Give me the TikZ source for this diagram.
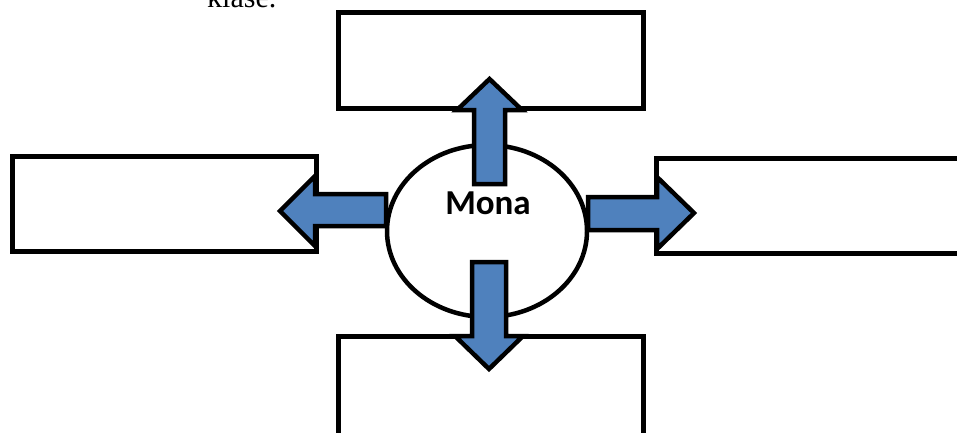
\documentclass[tikz,border=0pt]{standalone}
\usepackage{fontspec}
\usetikzlibrary{shapes.geometric}
\setmainfont{Liberation Serif}
\newfontfamily\monafont{Carlito}
\definecolor{arrowblue}{HTML}{4F81BD}
\begin{document}
\begin{tikzpicture}[x=1pt,y=-1pt,
  box/.style={draw, line width=5pt, fill=white, inner sep=0pt, outer sep=0pt, anchor=north west},
  blk/.style={fill=arrowblue, draw=black, line width=4.5pt, line join=miter},
  oval/.style={ellipse, draw, line width=4.5pt, fill=white, inner sep=0pt, outer sep=0pt, minimum width=200pt, minimum height=172pt}]
\useasboundingbox (0,0) rectangle (957,432);
\clip (0,0) rectangle (957,432);
\node[anchor=base west, font=\fontsize{30}{32}\selectfont, inner sep=0pt] (klase) at (207,7) {klase.};
\node[box, minimum width=305pt, minimum height=96pt] (topbox) at (338,12) {};
\node[box, minimum width=304pt, minimum height=95pt] (leftbox) at (12,156) {};
\node[box, minimum width=330pt, minimum height=95pt] (rightbox) at (656,158) {};
\node[box, minimum width=305pt, minimum height=110pt] (bottombox) at (338,336) {};
\node[oval] (mona) at (487,231) {};
\node[anchor=base, inner sep=0pt, font=\monafont\bfseries\fontsize{35}{38}\selectfont] (monatext) at (488,214) {Mona};
\draw[blk] (474,184) -- (474,110) -- (457,110) -- (489.5,79) -- (522,110) -- (505,110) -- (505,184) -- cycle;
\draw[blk] (472,262) -- (472,336) -- (455,336) -- (489,369) -- (523,336) -- (506,336) -- (506,262) -- cycle;
\draw[blk] (386,194) -- (315,194) -- (315,176) -- (280,211) -- (315,246) -- (315,226) -- (386,226) -- cycle;
\draw[blk] (588,197) -- (657,197) -- (657,177) -- (694,213) -- (657,249) -- (657,230) -- (588,230) -- cycle;
\end{tikzpicture}
\end{document}
